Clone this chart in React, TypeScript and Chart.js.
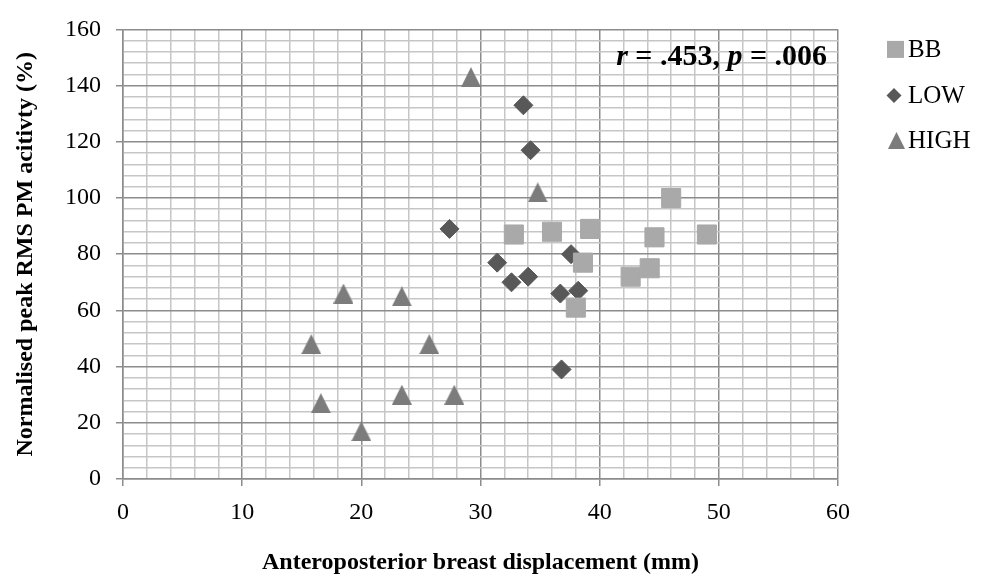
import React, { useEffect, useRef } from 'react';
import { Chart, registerables } from 'chart.js';

Chart.register(...registerables);

// ---- data ----
const bbX = [32.8, 36.0, 39.2, 38.6, 38.0, 42.6, 44.2, 44.6, 46.0, 49.0];
const bbY = [87, 88, 89, 77, 61, 72, 75, 86, 100, 87];
const lowX = [33.6, 34.2, 27.4, 31.4, 32.6, 34.0, 37.6, 36.7, 38.2, 36.8];
const lowY = [133, 117, 89, 77, 70, 72, 80, 66, 67, 39];
const highX = [29.2, 34.8, 18.5, 23.4, 15.8, 25.7, 16.6, 23.4, 27.8, 20.0];
const highY = [143, 102, 66, 65, 48, 48, 27, 30, 30, 17];

const seriesNames = ['BB', 'LOW', 'HIGH'];
const xRange = [0, 60];
const xMajor = 10;
const xMinor = 2;
const yRange = [0, 160];
const yMajor = 20;
const yMinor = 4;
const xTitle = 'Anteroposterior breast displacement (mm)';
const yTitle = 'Normalised peak RMS PM acitivty (%)';
const statR = '.453';
const statP = '.006';

const FONT = '"Liberation Serif", "Times New Roman", serif';
const MAJOR = '#8c8c8c';
const MINOR = '#c6c6c6';
const C_BB = '#a9a9a9';
const C_LOW = '#585858';
const C_HIGH = '#7c7c7c';

function makeTriangle(color: string, w: number, h: number) {
  const c = document.createElement('canvas');
  c.width = w;
  c.height = h;
  const g = c.getContext('2d')!;
  g.fillStyle = color;
  g.beginPath();
  g.moveTo(w / 2, 0);
  g.lineTo(w, h);
  g.lineTo(0, h);
  g.closePath();
  g.fill();
  return c;
}

const pts = (xs: number[], ys: number[]) => xs.map((x, i) => ({ x, y: ys[i] }));

export default function App() {
  const ref = useRef<HTMLCanvasElement | null>(null);

  useEffect(() => {
    if (!ref.current) return;
    const tri = makeTriangle(C_HIGH, 20, 20);
    const triLegend = makeTriangle(C_HIGH, 17, 17);

    const overlay = {
      id: 'overlay',
      afterDraw(chart: any) {
        const ctx = chart.ctx;
        const area = chart.chartArea;
        ctx.save();
        // annotation
        const parts: [string, string][] = [
          ['r', `italic bold 30px ${FONT}`],
          [` = ${statR}, `, `bold 30px ${FONT}`],
          ['p', `italic bold 30px ${FONT}`],
          [` = ${statP}`, `bold 30px ${FONT}`],
        ];
        let total = 0;
        for (const [t, f] of parts) {
          ctx.font = f;
          total += ctx.measureText(t).width;
        }
        let x = area.right - 11 - total;
        const y = area.top + 36;
        ctx.fillStyle = '#000';
        ctx.textBaseline = 'alphabetic';
        ctx.textAlign = 'left';
        for (const [t, f] of parts) {
          ctx.font = f;
          ctx.fillText(t, x, y);
          x += ctx.measureText(t).width;
        }
        // legend
        const lx = area.right + 49;
        const rows = [area.top + 20, area.top + 66, area.top + 111];
        // BB square
        ctx.fillStyle = C_BB;
        ctx.fillRect(lx, rows[0] - 8.5, 17, 17);
        // LOW diamond
        ctx.fillStyle = C_LOW;
        ctx.beginPath();
        ctx.moveTo(lx + 7, rows[1] - 7.5);
        ctx.lineTo(lx + 14.5, rows[1]);
        ctx.lineTo(lx + 7, rows[1] + 7.5);
        ctx.lineTo(lx - 0.5, rows[1]);
        ctx.closePath();
        ctx.fill();
        // HIGH triangle
        ctx.drawImage(triLegend, lx + 1, rows[2] - 8.5);
        ctx.fillStyle = '#000';
        ctx.font = `25px ${FONT}`;
        ctx.textBaseline = 'middle';
        seriesNames.forEach((n, i) => ctx.fillText(n, lx + 21, rows[i] + 1));
        ctx.restore();
      },
    };

    const chart = new Chart(ref.current, {
      type: 'scatter',
      data: {
        datasets: [
          {
            label: seriesNames[0],
            data: pts(bbX, bbY),
            pointStyle: 'rect',
            pointRadius: 13.5,
            backgroundColor: C_BB,
            borderColor: C_BB,
            borderWidth: 1,
          },
          {
            label: seriesNames[1],
            data: pts(lowX, lowY),
            pointStyle: 'rectRot',
            pointRadius: 9.5,
            backgroundColor: C_LOW,
            borderColor: C_LOW,
            borderWidth: 1,
          },
          {
            label: seriesNames[2],
            data: pts(highX, highY),
            pointStyle: tri as any,
            pointRadius: 10,
            backgroundColor: C_HIGH,
            borderColor: C_HIGH,
            borderWidth: 0,
          },
        ],
      },
      options: {
        responsive: false,
        animation: false,
        layout: { padding: { left: 0, top: 23, right: 144, bottom: 0 } },
        plugins: {
          legend: { display: false },
          tooltip: { enabled: false },
        },
        scales: {
          x: {
            type: 'linear',
            min: xRange[0],
            max: xRange[1],
            afterFit: (s: any) => {
              s.height = 100;
            },
            ticks: {
              stepSize: xMinor,
              autoSkip: false,
              maxRotation: 0,
              padding: 12,
              color: '#000',
              font: { family: FONT, size: 24 },
              callback: (v: any) => (Number(v) % xMajor === 0 ? String(v) : ''),
            },
            grid: {
              lineWidth: 1.5,
              tickLength: 7,
              color: (c: any) => (c.tick && c.tick.value % xMajor === 0 ? MAJOR : MINOR),
              tickColor: (c: any) => (c.tick && c.tick.value % xMajor === 0 ? MAJOR : 'rgba(0,0,0,0)'),
            },
            border: { color: MAJOR, width: 1.5 },
            title: {
              display: true,
              text: xTitle,
              color: '#000',
              font: { family: FONT, size: 24, weight: 'bold' },
              padding: { top: 0, bottom: 2 },
            },
          },
          y: {
            type: 'linear',
            min: yRange[0],
            max: yRange[1],
            afterFit: (s: any) => {
              s.width = 123;
            },
            ticks: {
              stepSize: yMinor,
              autoSkip: false,
              padding: 15,
              color: '#000',
              font: { family: FONT, size: 24 },
              callback: (v: any) => (Number(v) % yMajor === 0 ? String(v) : ''),
            },
            grid: {
              lineWidth: 1.5,
              tickLength: 7,
              color: (c: any) => (c.tick && c.tick.value % yMajor === 0 ? MAJOR : MINOR),
              tickColor: (c: any) => (c.tick && c.tick.value % yMajor === 0 ? MAJOR : 'rgba(0,0,0,0)'),
            },
            border: { color: MAJOR, width: 1.5 },
            title: {
              display: true,
              text: yTitle,
              color: '#000',
              font: { family: FONT, size: 24, weight: 'bold' },
              padding: { top: 11, bottom: 0 },
            },
          },
        },
      },
      plugins: [overlay],
    } as any);

    return () => chart.destroy();
  }, []);

  return (
    <div style={{ position: 'fixed', left: 0, top: 0, width: 982, height: 579, background: '#fff' }}>
      <canvas ref={ref} width={982} height={579} style={{ display: 'block' }} />
    </div>
  );
}
